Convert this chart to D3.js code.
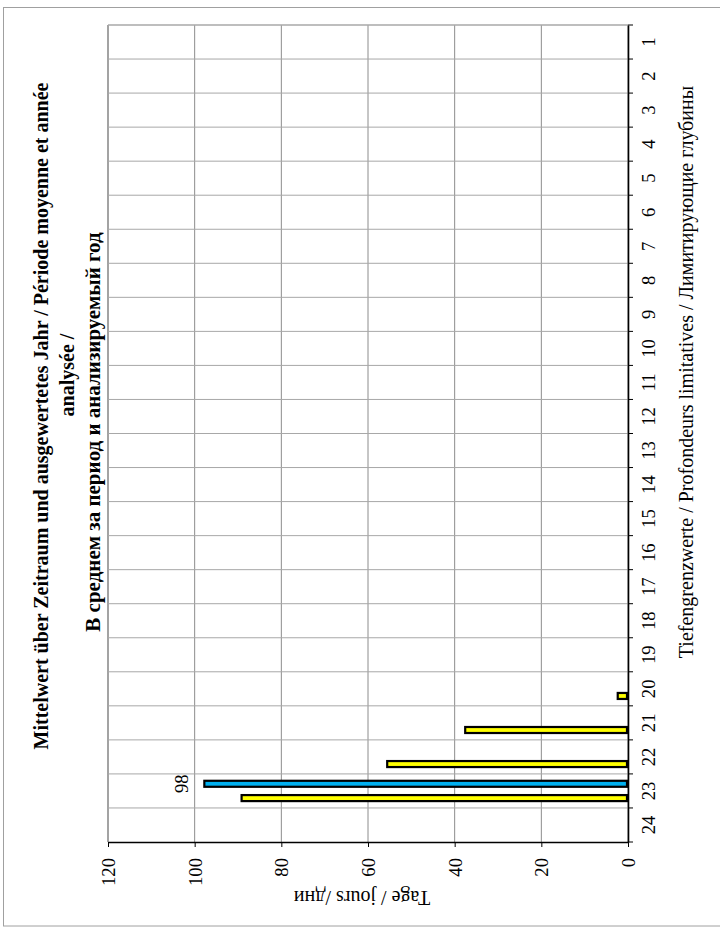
<!DOCTYPE html>
<html><head><meta charset="utf-8">
<script src="https://cdn.jsdelivr.net/npm/d3@7"></script>
<style>
body{margin:0;background:#fff}
svg{display:block}
text{font-family:"Liberation Serif","Times New Roman",serif;fill:#000}
</style>
</head><body>
<svg id="c" width="720" height="930"></svg>
<script>
// ---- data ----
const categories = ["1","2","3","4","5","6","7","8","9","10","11","12","13","14","15","16","17","18","19","20","21","22","23","24"];
const seriesNames = ["Zeitraum", "Jahr"];
const blueValues   = [null,null,null,null,null,null,null,null,null,null,null,null,null,null,null,null,null,null,null,null,null,null,98,null];
const yellowValues = [null,null,null,null,null,null,null,null,null,null,null,null,null,null,null,null,null,null,null,2.6,37.8,55.8,89.4,null];
const valueTicks = [0,20,40,60,80,100,120];
const labelledValues = [98];
const titleLines = [
  "Mittelwert über Zeitraum und ausgewertetes Jahr / Période moyenne et année",
  "analysée /",
  "В среднем за период и анализируемый год"
];
const valueAxisTitle = "Tage / jours /дни";
const categoryAxisTitle = "Tiefengrenzwerte / Profondeurs limitatives / Лимитирующие глубины";

// ---- layout ----
const svg = d3.select("#c");
const plot = {left:108, right:628, top:25, bottom:842};
const seriesColors = ["#00B0F0", "#FFFF00"];
const serif = "'Liberation Serif','Times New Roman',serif";
const titleCenters = [416, 375, 432];
const titleSizes = [20, 20, 21];

svg.append("rect").attr("x",3.5).attr("y",7.5).attr("width",722).attr("height",918.5)
  .attr("fill","#fff").attr("stroke","#a0a0a0").attr("stroke-width",1);

const x = d3.scaleLinear().domain([0,120]).range([plot.right, plot.left]);
const y = d3.scaleBand().domain(categories).range([plot.top, plot.bottom]);
const inner = d3.scaleBand().domain(seriesNames).range([0, y.bandwidth()]).paddingInner(0.44).paddingOuter(0.41);

// gridlines
svg.append("g").selectAll("line").data(valueTicks).join("line")
  .attr("x1", d => x(d)).attr("x2", d => x(d))
  .attr("y1", plot.top).attr("y2", plot.bottom)
  .attr("stroke", "#8c8c8c").attr("stroke-width", d => d === 120 ? 1.6 : 1);
svg.append("g").selectAll("line").data(categories).join("line")
  .attr("x1", plot.left).attr("x2", plot.right)
  .attr("y1", d => y(d)).attr("y2", d => y(d))
  .attr("stroke", "#a8a8a8").attr("stroke-width", (d,i) => i === 0 ? 1.6 : 1);

// bars
const series = [blueValues, yellowValues];
series.forEach((vals, si) => {
  const data = categories.map((c,i) => ({c, v: vals[i]})).filter(d => d.v != null && d.v > 0);
  svg.append("g").selectAll("rect").data(data).join("rect")
    .attr("x", d => x(d.v) + 1)
    .attr("width", d => x(0) - x(d.v) - 2)
    .attr("y", d => y(d.c) + inner(seriesNames[si]) + 1)
    .attr("height", inner.bandwidth() - 2)
    .attr("fill", seriesColors[si])
    .attr("stroke", "#000").attr("stroke-width", 2.2);
});

// data label
const lblData = categories.map((c,i) => ({c, v: blueValues[i]})).filter(d => d.v != null && labelledValues.includes(d.v));
svg.append("g").selectAll("text").data(lblData).join("text")
  .attr("transform", d => `translate(${x(d.v) - 15},${y(d.c) + inner(seriesNames[0]) + inner.bandwidth()/2}) rotate(-90)`)
  .attr("text-anchor","middle").style("font-size","18.67px")
  .text(d => d.v);

// value axis (bottom)
const xAxis = svg.append("g").attr("transform", `translate(0,${plot.bottom})`)
  .call(d3.axisBottom(x).tickValues(valueTicks).tickSize(5).tickSizeOuter(0));
xAxis.select(".domain").attr("stroke","#000").attr("stroke-width",1.6);
xAxis.selectAll(".tick line").attr("stroke","#000");
xAxis.selectAll("text")
  .attr("x", null).attr("y", null).attr("dy","0.35em")
  .attr("transform","translate(0,16) rotate(-90)")
  .attr("text-anchor","end")
  .style("font-family", serif)
  .style("font-size","18.67px");

// category axis (right)
const yAxis = svg.append("g").attr("transform", `translate(${plot.right},0)`)
  .call(d3.axisRight(y).tickSize(0).tickSizeOuter(0));
yAxis.select(".domain").attr("stroke","#000").attr("stroke-width",1.6);
yAxis.selectAll("text")
  .attr("x", null).attr("dy", null)
  .attr("transform","translate(27,0) rotate(-90)")
  .attr("text-anchor","middle")
  .style("font-family", serif)
  .style("font-size","18.67px");
// band boundary ticks
const bounds = categories.map(c => y(c)).concat([y.range()[1]]);
yAxis.append("g").selectAll("line").data(bounds).join("line")
  .attr("x1",0).attr("x2",5).attr("y1",d=>d).attr("y2",d=>d)
  .attr("stroke","#000").attr("stroke-width",1);

// titles
svg.append("g").selectAll("text").data(titleLines).join("text")
  .attr("transform", (d,i) => `translate(${48 + i*26},${titleCenters[i]}) rotate(-90)`)
  .attr("text-anchor","middle")
  .style("font-size", (d,i) => titleSizes[i] + "px").style("font-weight","bold")
  .text(d => d);

svg.append("text")
  .attr("transform", "translate(693,372) rotate(-90)")
  .attr("text-anchor","middle").style("font-size","20px")
  .text(categoryAxisTitle);

svg.append("text")
  .attr("transform", "translate(362,891) rotate(180)")
  .attr("text-anchor","middle").style("font-size","20px")
  .text(valueAxisTitle);
</script>
</body></html>
